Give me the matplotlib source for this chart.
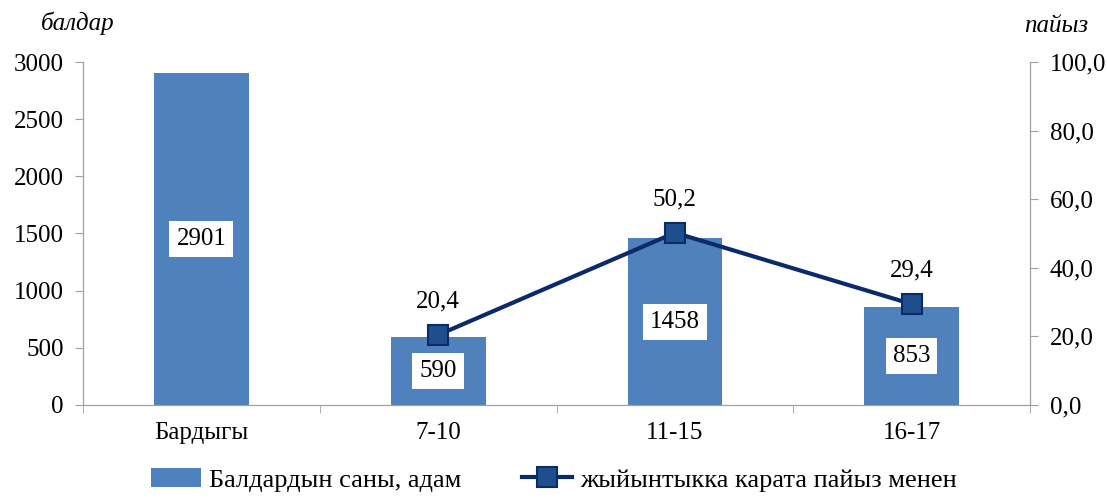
import matplotlib.pyplot as plt
import numpy as np

# data
categories = ["Бардыгы", "7-10", "11-15", "16-17"]
children = [2901, 590, 1458, 853]
pct_cats = ["7-10", "11-15", "16-17"]
pct_values = [20.4, 50.2, 29.4]

plt.rcParams["font.family"] = ["Liberation Serif", "DejaVu Serif"]
fs = 18

fig = plt.figure(figsize=(11.07, 4.98), dpi=100)
ax = fig.add_axes([0.075, 0.187, 0.8555, 0.6885])
ax2 = ax.twinx()

x = np.arange(len(categories))
bars = ax.bar(x, children, width=0.4, color="#4F81BD", label="Балдардын саны, адам", zorder=2)

for xi, v in zip(x, children):
    ax.text(xi, v / 2, str(v), ha="center", va="center", fontsize=fs,
            bbox=dict(facecolor="white", edgecolor="none", pad=5), zorder=3)

px = [categories.index(c) for c in pct_cats]
ax2.plot(px, pct_values, color="#0B2A6B", lw=3, marker="s", ms=14,
         mfc="#1F4E8C", mec="#0B2A6B", mew=1.5,
         label="жыйынтыкка карата пайыз менен", zorder=4)
for xi, v in zip(px, pct_values):
    ax2.annotate(f"{v:.1f}".replace(".", ","), (xi, v), xytext=(0, 16),
                 textcoords="offset points", ha="center", va="bottom", fontsize=fs)

ax.set_xlim(-0.5, len(categories) - 0.5)
ax.set_ylim(0, 3000)
ax.set_yticks(range(0, 3001, 500))
ax2.set_ylim(0, 100)
ax2.set_yticks(range(0, 101, 20))
ax2.set_yticklabels([f"{t:.1f}".replace(".", ",") for t in range(0, 101, 20)])

ax.set_xticks(x)
ax.set_xticklabels(categories)
ax.set_xticks(np.arange(-0.5, len(categories), 1), minor=True)
ax.tick_params(axis="x", which="major", length=0, labelsize=fs, pad=12)
ax.tick_params(axis="x", which="minor", length=6, color="#A0A0A0")
ax.tick_params(axis="y", labelsize=fs, length=6, color="#A0A0A0", pad=8)
ax2.tick_params(axis="y", labelsize=fs, length=6, color="#A0A0A0", pad=8)

for a in (ax, ax2):
    a.spines["top"].set_visible(False)
    for s in ("left", "right", "bottom"):
        a.spines[s].set_color("#A0A0A0")

fig.text(0.07, 0.94, "балдар", ha="center", fontsize=fs, style="italic")
fig.text(0.954, 0.935, "пайыз", ha="center", fontsize=fs, style="italic")

h1, l1 = ax.get_legend_handles_labels()
h2, l2 = ax2.get_legend_handles_labels()
fig.legend(h1 + h2, l1 + l2, loc="lower center", bbox_to_anchor=(0.5, -0.035), ncol=2,
           frameon=False, fontsize=19, handlelength=1.9, columnspacing=2.3, handletextpad=0.3)

fig.savefig("out.png", dpi=100)
